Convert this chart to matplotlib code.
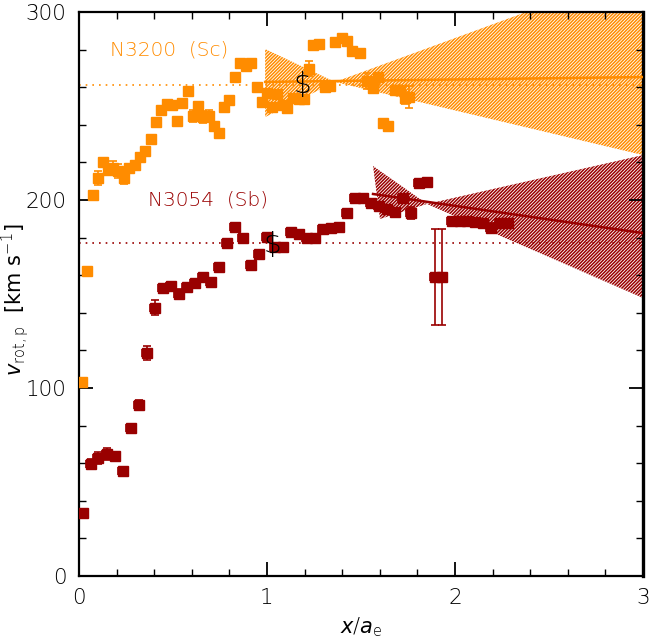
import matplotlib
matplotlib.use("Agg")
import matplotlib.pyplot as plt
import numpy as np

plt.rcParams['font.family'] = ['DejaVu Sans']
plt.rcParams['font.weight'] = 'light'
plt.rcParams['hatch.linewidth'] = 1.1
plt.rcParams['mathtext.fontset'] = 'dejavusans'

ORANGE = '#FF8C00'
DARKRED = '#990000'

# ---- N3200 (Sc) rotation curve ----
n3200_x = [0.016, 0.043, 0.074, 0.101, 0.128, 0.154, 0.181, 0.207, 0.239, 0.266,
           0.298, 0.324, 0.351, 0.383, 0.410, 0.436, 0.468, 0.495, 0.521, 0.548,
           0.580, 0.606, 0.633, 0.660, 0.691, 0.718, 0.745, 0.771, 0.798, 0.830,
           0.856, 0.888, 0.915, 0.947, 0.973, 1.000, 1.027, 1.053, 1.085, 1.106,
           1.138, 1.170, 1.197, 1.223, 1.245, 1.277, 1.309, 1.335, 1.362, 1.399,
           1.426, 1.452, 1.495, 1.532, 1.564, 1.590, 1.617, 1.644, 1.681, 1.707,
           1.734, 1.755]
n3200_v = [103.2, 162.2, 202.7, 211.7, 220.2, 216.0, 217.0, 215.4, 211.7, 217.0,
           218.6, 222.9, 226.1, 232.4, 241.5, 247.9, 251.1, 250.5, 242.0, 251.6,
           258.0, 244.7, 250.0, 244.1, 244.7, 239.4, 235.6, 249.5, 253.2, 265.4,
           272.9, 271.3, 272.9, 260.1, 252.1, 256.9, 249.5, 256.4, 250.5, 248.9,
           254.3, 253.7, 253.7, 269.7, 282.4, 283.0, 260.1, 260.6, 284.0, 286.2,
           284.6, 279.3, 278.2, 263.3, 259.6, 265.4, 241.0, 239.4, 258.5, 258.5,
           254.3, 254.8]
n3200_err = [1.5, 1.5, 1.5, 3.5, 1.5, 1.5, 3.5, 3.5, 3.0, 1.5,
             1.5, 1.5, 1.5, 1.5, 1.5, 1.5, 1.5, 1.5, 1.5, 1.5,
             1.5, 3.0, 1.5, 3.0, 3.0, 1.5, 1.5, 1.5, 1.5, 1.5,
             1.5, 1.5, 1.5, 1.5, 1.5, 1.5, 1.5, 1.5, 1.5, 1.5,
             1.5, 1.5, 1.5, 4.0, 1.5, 1.5, 1.5, 1.5, 1.5, 1.5,
             1.5, 1.5, 1.5, 4.5, 1.5, 1.5, 1.5, 1.5, 1.5, 1.5,
             3.0, 6.0]

# ---- N3054 (Sb) rotation curve ----
n3054_x = [0.021, 0.064, 0.101, 0.149, 0.191, 0.234, 0.277, 0.319, 0.362, 0.404,
           0.447, 0.489, 0.532, 0.574, 0.617, 0.660, 0.702, 0.745, 0.787, 0.830,
           0.872, 0.915, 0.957, 1.000, 1.043, 1.085, 1.128, 1.170, 1.213, 1.255,
           1.298, 1.340, 1.383, 1.426, 1.468, 1.511, 1.553, 1.596, 1.638, 1.681,
           1.723, 1.766, 1.809, 1.851, 1.894, 1.931, 1.984, 2.027, 2.064, 2.106,
           2.149, 2.191, 2.239, 2.282]
n3054_v = [33.5, 59.6, 62.8, 64.9, 63.8, 55.9, 78.7, 91.0, 118.6, 142.6,
           153.2, 154.3, 150.0, 153.7, 155.9, 159.0, 156.4, 164.4, 177.1, 185.6,
           179.8, 165.4, 171.3, 180.3, 175.0, 175.0, 183.0, 182.0, 179.8, 179.8,
           184.6, 185.1, 185.6, 193.1, 201.1, 201.1, 198.4, 196.8, 195.2, 193.6,
           201.1, 193.1, 209.0, 209.6, 159.0, 159.0, 188.8, 188.8, 188.8, 188.3,
           187.8, 185.1, 187.8, 187.8]
n3054_err = [1.5, 2.5, 3.0, 3.0, 1.5, 1.5, 1.5, 2.5, 3.5, 4.0,
             2.0, 2.0, 2.5, 1.5, 1.5, 1.5, 1.5, 1.5, 1.5, 1.5,
             1.5, 1.5, 1.5, 1.5, 1.5, 1.5, 1.5, 1.5, 1.5, 1.5,
             1.5, 1.5, 1.5, 1.5, 1.5, 1.5, 1.5, 1.5, 1.5, 1.5,
             1.5, 3.0, 1.5, 1.5, 25.7, 25.7, 1.5, 1.5, 1.5, 1.5,
             1.5, 2.5, 1.5, 1.5]

# characteristic velocities (dotted) and outer fits
n3200_vchar = 261.2
n3054_vchar = 177.1
n3200_fit_x = [0.99, 3.0]
n3200_fit_v = [262.8, 265.4]
n3054_fit_x = [1.564, 3.0]
n3054_fit_v = [203.2, 182.4]

# confidence bands of the outer fits (bow-tie shapes)
n3200_band_left_x = [0.99, 1.362, 0.99]
n3200_band_left_v = [280.3, 262.8, 244.1]
n3200_band_right_x = [1.362, 3.0, 3.0]
n3200_band_right_v = [262.8, 322.7, 223.9]
n3054_band_left_x = [1.564, 1.851, 1.601]
n3054_band_left_v = [218.1, 197.9, 189.9]
n3054_band_right_x = [1.851, 3.0, 3.0]
n3054_band_right_v = [197.9, 223.9, 147.9]

# positions of the "$" markers
dollar_x = [1.191, 1.027]
dollar_v = [261.2, 176.1]

fig = plt.figure(figsize=(6.49, 6.40), dpi=100)
ax = fig.add_axes([79/649, 1 - 576/640, 564/649, 564/640])

for bx, bv, col in [(n3200_band_left_x, n3200_band_left_v, ORANGE),
                    (n3200_band_right_x, n3200_band_right_v, ORANGE),
                    (n3054_band_left_x, n3054_band_left_v, DARKRED),
                    (n3054_band_right_x, n3054_band_right_v, DARKRED)]:
    ax.fill(bx, bv, facecolor='none', edgecolor=col, hatch='//////////',
            linewidth=0, zorder=1)

ax.axhline(n3200_vchar, color=ORANGE, ls=(0, (1, 3)), lw=1.2, zorder=2)
ax.axhline(n3054_vchar, color=DARKRED, ls=(0, (1, 3)), lw=1.2, zorder=2)

ax.plot(n3200_fit_x, n3200_fit_v, color=ORANGE, lw=1.8, zorder=3)
ax.plot(n3054_fit_x, n3054_fit_v, color=DARKRED, lw=1.8, zorder=3)

ax.errorbar(n3200_x, n3200_v, yerr=n3200_err, fmt='s', ms=7.5, color=ORANGE,
            ecolor=ORANGE, elinewidth=1.2, capsize=3, capthick=1.2, zorder=4)
ax.errorbar(n3054_x, n3054_v, yerr=n3054_err, xerr=0.025, fmt='s', ms=6.5,
            color=DARKRED, ecolor=DARKRED, elinewidth=1.2, capsize=3,
            capthick=1.2, zorder=4)

for dx, dv in zip(dollar_x, dollar_v):
    ax.text(dx, dv, r'\$', fontsize=20, ha='center', va='center',
            color='black', zorder=6)

ax.text(0.165, 279.8, 'N3200  (Sc)', color=ORANGE, fontsize=14.5,
        ha='left', va='center')
ax.text(0.367, 200.0, 'N3054  (Sb)', color=DARKRED, fontsize=14.5,
        ha='left', va='center')

ax.set_xlim(0, 3)
ax.set_ylim(0, 300)
ax.set_xticks([0, 1, 2, 3])
ax.set_yticks([0, 100, 200, 300])
ax.set_xticks(np.arange(0, 3.01, 0.2), minor=True)
ax.set_yticks(np.arange(0, 301, 20), minor=True)
ax.tick_params(which='both', direction='in', top=True, right=True,
               labelsize=15.5, colors='black')
ax.tick_params(which='major', length=10, width=1.3, pad=9)
ax.tick_params(which='minor', length=5, width=1.0)
for side in ['left', 'bottom', 'right', 'top']:
    ax.spines[side].set_linewidth(1.6)
ax.spines['right'].set_linewidth(2.4)

ax.set_xlabel(r'$x/a_{\rm e}$', fontsize=15)
ax.xaxis.set_label_coords(0.5, -0.07)
ax.set_ylabel(r'$v_{\rm rot,p}$  [km s$^{-1}$]', fontsize=15)
ax.yaxis.set_label_coords(-0.085, 0.49)

fig.savefig('out.png', dpi=100)
